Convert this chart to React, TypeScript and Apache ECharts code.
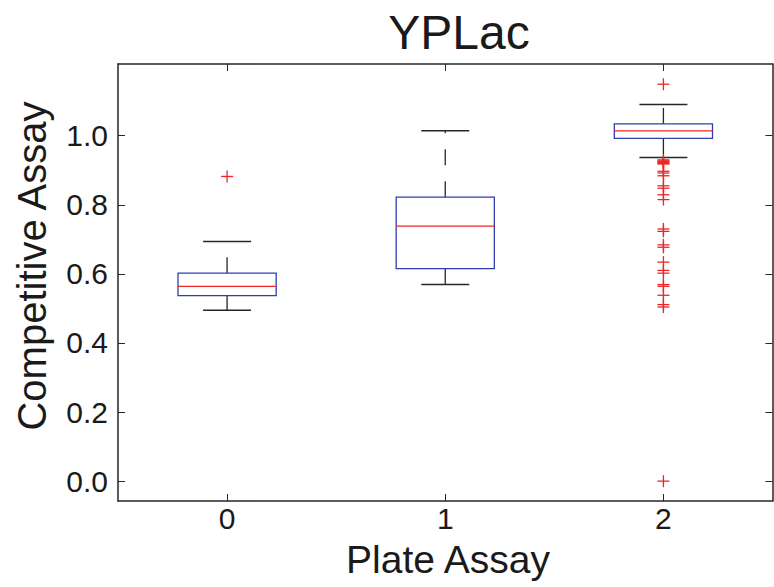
import React, { useEffect, useRef } from "react";
import * as echarts from "echarts";

const categories = ["0", "1", "2"];
const lowWhisker = [0.495, 0.569, 0.937];
const q1 = [0.537, 0.615, 0.992];
const median = [0.564, 0.738, 1.014];
const q3 = [0.602, 0.822, 1.034];
const highWhisker = [0.694, 1.014, 1.09];
const outliers0 = [0.882];
const outliers1: number[] = [];
const outliers2 = [
  1.149, 0.93, 0.927, 0.925, 0.922, 0.92, 0.918, 0.897, 0.892, 0.884, 0.855, 0.848, 0.829,
  0.815, 0.73, 0.723, 0.684, 0.677, 0.634, 0.61, 0.602, 0.569, 0.564, 0.538, 0.511, 0.504, 0.0,
];
const yTicks = [0, 0.2, 0.4, 0.6, 0.8, 1.0];
const yTickLabels = ["0.0", "0.2", "0.4", "0.6", "0.8", "1.0"];

const titleText = "YPLac";
const xName = "Plate Assay";
const yName = "Competitive Assay";

const FONT = "'Liberation Sans', Arial, Helvetica, sans-serif";
const BLUE = "#2f3db0";
const RED = "#f02626";
const DARK = "#262626";

export default function App() {
  const ref = useRef<HTMLDivElement>(null);
  useEffect(() => {
    if (!ref.current) return;
    const chart = echarts.init(ref.current, undefined, { renderer: "svg" });

    const boxData = categories.map((_, i) => [i, lowWhisker[i], q1[i], median[i], q3[i], highWhisker[i]]);
    const outlierData: number[][] = [];
    [outliers0, outliers1, outliers2].forEach((arr, i) => arr.forEach((v) => outlierData.push([i, v])));

    const yLabelMap: Record<string, string> = {};
    yTicks.forEach((t, i) => (yLabelMap[t.toFixed(1)] = yTickLabels[i]));

    const axisLine = { show: true, onZero: false, lineStyle: { color: DARK, width: 1.5 } };
    const tickStyle = { color: DARK, width: 1 };

    chart.setOption({
      animation: false,
      backgroundColor: "#ffffff",
      grid: {
        left: 118,
        right: 1.5,
        top: 64,
        bottom: 86,
        containLabel: false,
        outerBoundsMode: "none",
      },
      xAxis: [
        {
          type: "category",
          data: categories,
          position: "bottom",
          boundaryGap: true,
          axisLine,
          axisTick: { show: true, inside: true, alignWithLabel: true, length: 7, lineStyle: tickStyle },
          axisLabel: { show: true, fontSize: 30, fontFamily: FONT, color: "#1a1a1a", margin: 2 },
          splitLine: { show: false },
        },
        {
          type: "category",
          data: categories,
          position: "top",
          boundaryGap: true,
          axisLine,
          axisTick: { show: true, inside: true, alignWithLabel: true, length: 7, lineStyle: tickStyle },
          axisLabel: { show: false },
          splitLine: { show: false },
        },
      ],
      yAxis: [
        {
          type: "value",
          min: -0.0575,
          max: 1.2075,
          position: "left",
          axisLine,
          axisTick: { show: true, inside: true, length: 7, lineStyle: tickStyle, customValues: yTicks },
          axisLabel: {
            show: true,
            fontSize: 30,
            fontFamily: FONT,
            color: "#1a1a1a",
            margin: 10,
            customValues: yTicks,
            formatter: (v: number) => yLabelMap[v.toFixed(1)] ?? v.toFixed(1),
          },
          splitLine: { show: false },
        },
        {
          type: "value",
          min: -0.0575,
          max: 1.2075,
          position: "right",
          axisLine,
          axisTick: { show: true, inside: true, length: 7, lineStyle: tickStyle, customValues: yTicks },
          axisLabel: { show: false },
          splitLine: { show: false },
        },
      ],
      series: [
        {
          type: "custom",
          xAxisIndex: 0,
          yAxisIndex: 0,
          encode: { x: 0, y: [1, 2, 3, 4, 5] },
          data: boxData,
          renderItem: (params: any, api: any) => {
            const idx = api.value(0);
            const band = api.size([1, 0])[0];
            const hb = band * 0.225;
            const hc = band * 0.11;
            const pLow = api.coord([idx, api.value(1)]);
            const pQ1 = api.coord([idx, api.value(2)]);
            const pMed = api.coord([idx, api.value(3)]);
            const pQ3 = api.coord([idx, api.value(4)]);
            const pHigh = api.coord([idx, api.value(5)]);
            const cx = pMed[0];
            const whisk = { stroke: DARK, lineWidth: 1.3, lineDash: [16, 16], fill: "none" };
            const cap = { stroke: DARK, lineWidth: 1.5, fill: "none" };
            return {
              type: "group",
              children: [
                { type: "line", shape: { x1: cx, y1: pQ3[1], x2: cx, y2: pHigh[1] }, style: whisk },
                { type: "line", shape: { x1: cx, y1: pQ1[1], x2: cx, y2: pLow[1] }, style: whisk },
                { type: "line", shape: { x1: cx - hc, y1: pHigh[1], x2: cx + hc, y2: pHigh[1] }, style: cap },
                { type: "line", shape: { x1: cx - hc, y1: pLow[1], x2: cx + hc, y2: pLow[1] }, style: cap },
                {
                  type: "rect",
                  shape: { x: cx - hb, y: pQ3[1], width: 2 * hb, height: pQ1[1] - pQ3[1] },
                  style: { fill: "none", stroke: BLUE, lineWidth: 1.3 },
                },
                {
                  type: "line",
                  shape: { x1: cx - hb, y1: pMed[1], x2: cx + hb, y2: pMed[1] },
                  style: { stroke: RED, lineWidth: 1.3, fill: "none" },
                },
              ],
            };
          },
          z: 2,
        },
        {
          type: "custom",
          xAxisIndex: 0,
          yAxisIndex: 0,
          encode: { x: 0, y: 1 },
          data: outlierData,
          renderItem: (params: any, api: any) => {
            const p = api.coord([api.value(0), api.value(1)]);
            const s = 6;
            const st = { stroke: RED, lineWidth: 1.3, fill: "none" };
            return {
              type: "group",
              children: [
                { type: "line", shape: { x1: p[0] - s, y1: p[1], x2: p[0] + s, y2: p[1] }, style: st },
                { type: "line", shape: { x1: p[0], y1: p[1] - s, x2: p[0], y2: p[1] + s }, style: st },
              ],
            };
          },
          z: 3,
        },
      ],
      graphic: [
        {
          type: "text",
          x: 459,
          y: 32,
          style: {
            text: titleText,
            fontSize: 48,
            fontFamily: FONT,
            fill: "#1a1a1a",
            align: "center",
            verticalAlign: "middle",
          },
        },
        {
          type: "text",
          x: 448,
          y: 559,
          style: {
            text: xName,
            fontSize: 39,
            fontFamily: FONT,
            fill: "#1a1a1a",
            align: "center",
            verticalAlign: "middle",
          },
        },
        {
          type: "text",
          x: 32,
          y: 266,
          rotation: Math.PI / 2,
          style: {
            text: yName,
            fontSize: 40,
            fontFamily: FONT,
            fill: "#1a1a1a",
            align: "center",
            verticalAlign: "middle",
          },
        },
      ],
    });
    return () => chart.dispose();
  }, []);
  return (
    <div
      ref={ref}
      style={{ position: "fixed", left: 0, top: 0, width: 774, height: 587, background: "#fff" }}
    />
  );
}
